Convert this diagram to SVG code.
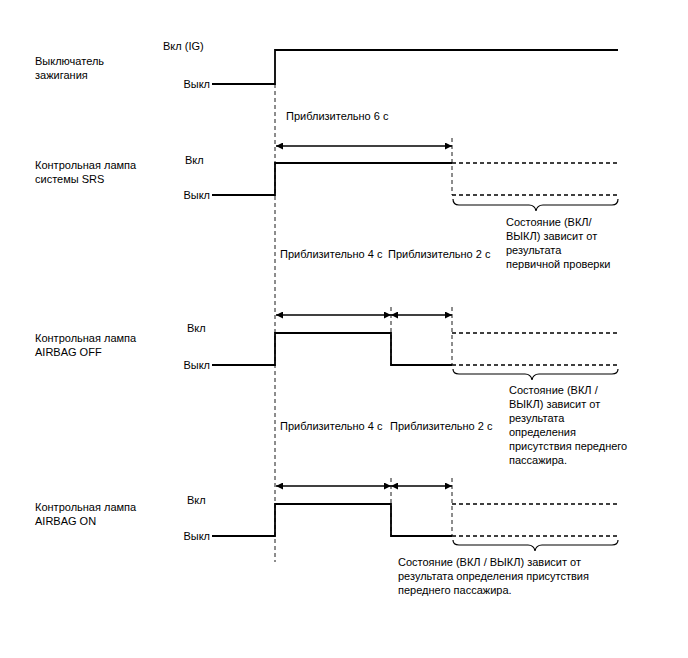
<svg xmlns="http://www.w3.org/2000/svg" width="688" height="658" viewBox="0 0 688 658">
<defs>
<style>
text{font-family:"Liberation Sans",Arial,sans-serif;font-size:11px;fill:#000}
.sig{fill:none;stroke:#000;stroke-width:1.8}
.dsig{fill:none;stroke:#000;stroke-width:1.4;stroke-dasharray:4 3}
.guide{fill:none;stroke:#000;stroke-width:0.9;stroke-dasharray:4 3}
.arr{fill:none;stroke:#000;stroke-width:1.3;marker-start:url(#ah);marker-end:url(#ah)}
.brace{fill:none;stroke:#000;stroke-width:1.2}
</style>
<marker id="ah" viewBox="0 0 10 10" refX="10" refY="5" markerWidth="11" markerHeight="7" markerUnits="userSpaceOnUse" orient="auto-start-reverse">
<path d="M0,0 L10,5 L0,10 Z" fill="#000"/>
</marker>
</defs>
<rect width="688" height="658" fill="#fff"/>

<g id="ig">
<text x="35" y="65">Выключатель</text>
<text x="35" y="79">зажигания</text>
<text x="163" y="50">Вкл (IG)</text>
<text x="210" y="88" text-anchor="end">Выкл</text>
<path class="sig" d="M212,84 H275 V50 H618"/>
</g>

<g id="srs">
<text x="35" y="169">Контрольная лампа</text>
<text x="35" y="183">системы SRS</text>
<text x="185" y="164">Вкл</text>
<text x="210" y="199" text-anchor="end">Выкл</text>
<path class="sig" d="M212,195 H275 V163 H452"/>
<path class="dsig" d="M452,163 H618 M452,195 H618"/>
<path class="brace" d="M453,199 Q453,205 459,205 L529,205 Q535,205 536,211 Q537,205 543,205 L612,205 Q618,205 618,199"/>
<text x="506" y="226">Состояние (ВКЛ/</text>
<text x="506" y="240">ВЫКЛ) зависит от</text>
<text x="506" y="254">результата</text>
<text x="506" y="268">первичной проверки</text>
</g>

<g id="airbag-off">
<text x="35" y="342">Контрольная лампа</text>
<text x="35" y="356">AIRBAG OFF</text>
<text x="187" y="332">Вкл</text>
<text x="210" y="369" text-anchor="end">Выкл</text>
<path class="sig" d="M212,365 H275 V333 H391 V365 H452"/>
<path class="dsig" d="M452,333 H618 M452,365 H618"/>
<path class="brace" d="M453,369 Q453,374 459,374 L525,374 Q531,374 532,380 Q533,374 539,374 L612,374 Q618,374 618,369"/>
<text x="509" y="394">Состояние (ВКЛ /</text>
<text x="509" y="408">ВЫКЛ) зависит от</text>
<text x="509" y="422">результата</text>
<text x="509" y="436">определения</text>
<text x="509" y="450">присутствия переднего</text>
<text x="509" y="464">пассажира.</text>
</g>

<g id="airbag-on">
<text x="35" y="511">Контрольная лампа</text>
<text x="35" y="525">AIRBAG ON</text>
<text x="187" y="504">Вкл</text>
<text x="210" y="540" text-anchor="end">Выкл</text>
<path class="sig" d="M212,536 H275 V504 H391 V536 H452"/>
<path class="dsig" d="M452,504 H618 M452,536 H618"/>
<path class="brace" d="M453,540 Q453,545 459,545 L528,545 Q534,545 535,551 Q536,545 542,545 L612,545 Q618,545 618,540"/>
<text x="398" y="566">Состояние (ВКЛ / ВЫКЛ) зависит от</text>
<text x="398" y="580">результата определения присутствия</text>
<text x="398" y="594">переднего пассажира.</text>
</g>

<g id="timing">
<path class="guide" d="M275,84 V562"/>
<path class="guide" d="M452,138 V195"/>
<path class="guide" d="M391,307 V365"/>
<path class="guide" d="M452,307 V365"/>
<path class="guide" d="M391,478 V536"/>
<path class="guide" d="M452,478 V536"/>
<path class="arr" d="M276,146 H452"/>
<path class="arr" d="M276,315 H391"/>
<path class="arr" d="M391,315 H452"/>
<path class="arr" d="M276,486 H391"/>
<path class="arr" d="M391,486 H452"/>
<text x="286" y="120">Приблизительно 6 с</text>
<text x="280" y="258">Приблизительно 4 с</text>
<text x="388" y="258">Приблизительно 2 с</text>
<text x="280" y="430">Приблизительно 4 с</text>
<text x="390" y="430">Приблизительно 2 с</text>
</g>
</svg>
